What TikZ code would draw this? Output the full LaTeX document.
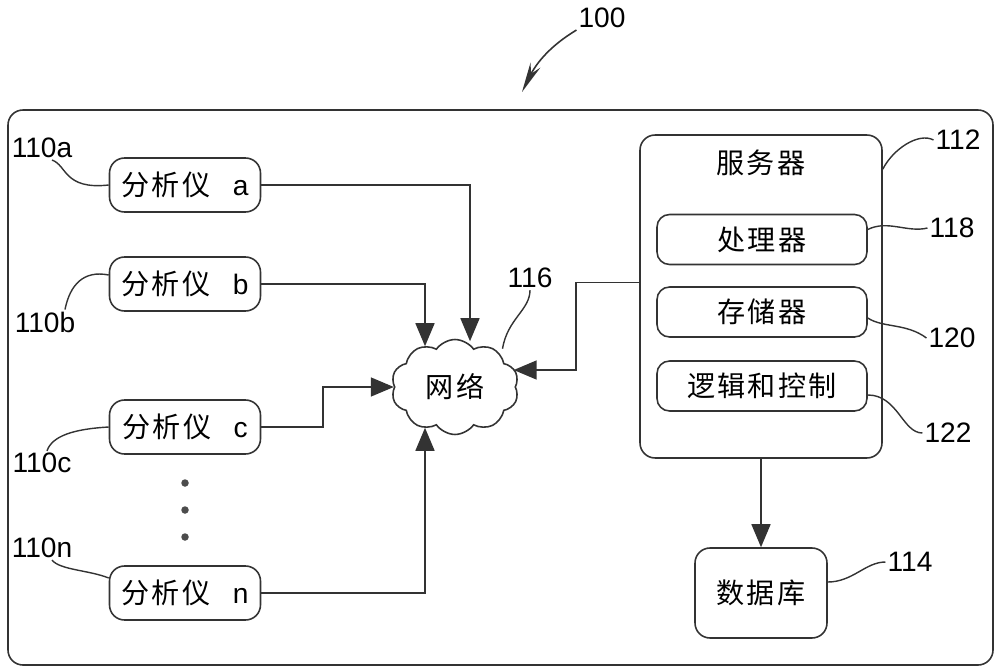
\documentclass[tikz,border=0pt]{standalone}
\usepackage{fontspec}
\newfontfamily\cjk{Noto Sans CJK SC}[LetterSpace=8]
\newfontfamily\numfont{Liberation Sans}
\usetikzlibrary{arrows.meta,shapes.symbols,calc}
\tikzset{
    line color/.style={black!80},
    unit box/.style={draw=black!80,line width=0.9pt,rounded corners=0.3cm,inner sep=0pt},
    analyser/.style={unit box,minimum width=3.02cm,minimum height=1.08cm},
    part/.style={unit box,rounded corners=0.25cm,minimum width=4.2cm,minimum height=1cm},
    arr/.style={-{Triangle[width=0.38cm,length=0.46cm]},draw=black!80,line width=0.9pt},
    leader/.style={draw=black!80,line width=0.8pt},
    ref label/.style={font=\numfont\fontsize{16}{18}\selectfont,inner sep=1pt},
}
\tikzstyle{every node}=[font=\cjk\fontsize{16}{18}\selectfont]

\begin{document}
\begin{tikzpicture}[x=0.02cm,y=-0.02cm]
        \useasboundingbox (0,0) rectangle (1000,672);
        \draw[line color,line width=0.9pt,rounded corners=0.3cm] (8,110) rectangle (993,665);
        % analysers
        \node[analyser] (ana) at (185,185) {分析仪\hspace{0.45cm}{\numfont a}};
        \node[analyser] (anb) at (185,284) {分析仪\hspace{0.45cm}{\numfont b}};
        \node[analyser] (anc) at (185,427) {分析仪\hspace{0.45cm}{\numfont c}};
        \node[analyser] (ann) at (185,593) {分析仪\hspace{0.45cm}{\numfont n}};
        \foreach \y in {483,510,537} \fill[black!70] (185,\y) circle[radius=0.075cm];
        % network
        \node[cloud,draw=black!80,line width=0.9pt,cloud puffs=10,cloud puff arc=110,aspect=1.35,
            minimum width=2.55cm,minimum height=1.9cm,inner sep=0pt] (net) at (455,387) {网络};
        % server
        \node[unit box,minimum width=4.84cm,minimum height=6.46cm] (server) at (761,296.5) {};
        \node (srvname) at (761,163) {服务器};
        \node[part] (pro) at (762,239.5) {处理器};
        \node[part] (mem) at (762,312) {存储器};
        \node[part] (logic) at (762,386) {逻辑和控制};
        \node[unit box,minimum width=2.64cm,minimum height=1.8cm] (db) at (761,593) {数据库};
        % connectors
        \draw[arr] (ana.east) -| ([xshift=0.3cm,yshift=-0.05cm]net.north);
        \draw[arr] (anb.east) -| ([xshift=-0.6cm,yshift=-0.15cm]net.north);
        \draw[arr] (anc.east) -- ++(62,0) |- (net.west);
        \draw[arr] (ann.east) -| ([xshift=-0.6cm,yshift=0.15cm]net.south);
        \draw[arr] ([yshift=0.28cm]server.west) -- ++(-63,0) |- ([xshift=-0.05cm,yshift=0.34cm]net.east);
        \draw[arr] (server.south) -- (db.north);
        % reference numerals
        \node[ref label] (l100) at (602,18) {100};
        \node[ref label] (l110a) at (42,148) {110a};
        \node[ref label] (l110b) at (45,322) {110b};
        \node[ref label] (l110c) at (42,463) {110c};
        \node[ref label] (l110n) at (42,548) {110n};
        \node[ref label] (l116) at (530,278) {116};
        \node[ref label] (l112) at (958,140) {112};
        \node[ref label] (l118) at (952,228) {118};
        \node[ref label] (l120) at (952,338) {120};
        \node[ref label] (l122) at (948,433) {122};
        \node[ref label] (l114) at (910,562) {114};
        \coordinate (sys) at (522,92);
        \draw[-{Stealth[width=0.22cm,length=0.6cm]},line color,line width=0.9pt] (l100.south west) .. controls +(-25,15) and +(15,-30) .. (sys);
        \draw[leader] ([xshift=0.2cm]l110a.south) .. controls +(15,5) and +(-45,5) .. (ana.west);
        \draw[leader] ([xshift=0.4cm]l110b.north) .. controls +(5,-25) and +(-25,-5) .. ([yshift=0.18cm]anb.west);
        \draw[leader] ([xshift=0.1cm]l110c.north) .. controls +(5,-15) and +(-35,2) .. (anc.west);
        \draw[leader] ([xshift=0.2cm]l110n.south) .. controls +(8,10) and +(-20,-8) .. ([yshift=0.3cm]ann.west);
        \draw[leader] (l116.south) .. controls +(0,20) and +(5,-30) .. ([xshift=0.95cm,yshift=-0.2cm]net.north);
        \draw[leader] ([yshift=-0.7cm]server.north east) .. controls +(10,-20) and +(-15,-8) .. (l112.west);
        \draw[leader] ([yshift=0.2cm]pro.east) .. controls +(20,-10) and +(-20,5) .. (l118.west);
        \draw[leader] ([yshift=-0.12cm]mem.east) .. controls +(15,10) and +(-20,-15) .. (l120.west);
        \draw[leader] ([yshift=-0.18cm]logic.east) .. controls +(30,0) and +(-20,0) .. (l122.west);
        \draw[leader] ([yshift=0.22cm]db.east) .. controls +(25,0) and +(-20,0) .. (l114.west);
    \end{tikzpicture}
\end{document}
